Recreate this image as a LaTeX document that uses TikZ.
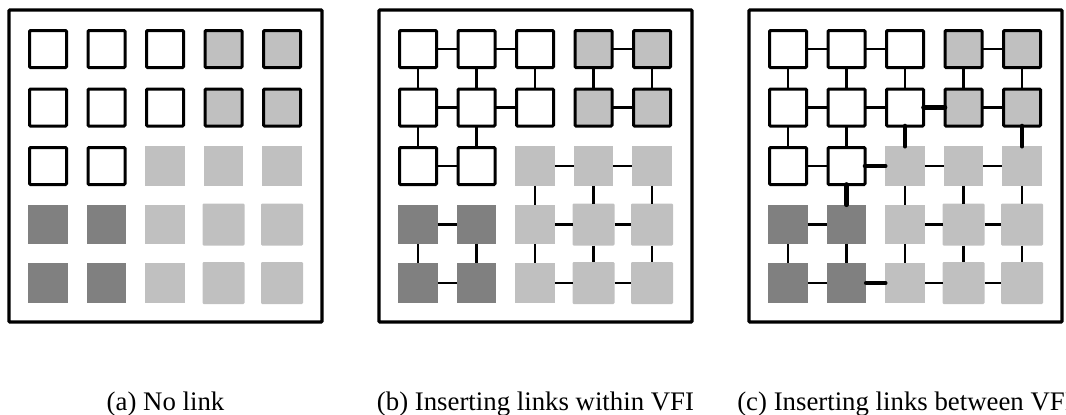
\documentclass[tikz,border=0pt]{standalone}
\usepackage{fontspec}
\setmainfont{Liberation Serif}
\definecolor{lgray}{RGB}{192,192,192}
\definecolor{dgray}{RGB}{128,128,128}
\tikzset{
  cell/.style={inner sep=0pt, outer sep=0pt},
  cellw/.style={cell, minimum size=37pt, draw=black, line width=3pt, fill=white, rounded corners=1pt},
  cellg/.style={cell, minimum size=37pt, draw=black, line width=3pt, fill=lgray, rounded corners=1pt},
  celld/.style={cell, minimum size=39.5pt, fill=dgray},
  celll/.style={cell, minimum size=39.5pt, fill=lgray},
  cellL/.style={cell, minimum size=42pt, fill=lgray, rounded corners=1.2pt},
  link/.style={line width=2.2pt},
  xlink/.style={line width=4.6pt, line cap=round},
  frame/.style={line width=3.2pt, rounded corners=1pt},
  caption/.style={font=\fontsize{26.8}{30}\selectfont, anchor=base, inner sep=0pt}
}
\begin{document}
\begin{tikzpicture}[x=1pt, y=-1pt]
  \useasboundingbox (0,0) rectangle (1066,415);
  % three panels, each a 5x5 grid of cores inside a frame
  \foreach \p/\ox/\cap in {a/0/{(a) No link},
                           b/370/{(b) Inserting links within VFI},
                           c/740/{(c) Inserting links between VFI}} {
    \draw[frame] (\ox+9,10) rectangle (\ox+322,322);
    \foreach \i/\row in {1/{w,w,w,g,g}, 2/{w,w,w,g,g}, 3/{w,w,l,l,l},
                         4/{d,d,l,L,L}, 5/{d,d,l,L,L}} {
      \foreach \s [count=\j] in \row {
        \node[cell\s] (\p\i\j) at ({\ox+48+58.5*(\j-1)}, {49+58.5*(\i-1)}) {};
      }
    }
    \node[caption] (cap\p) at (\ox+165.5,410) {\cap};
  }
  % links inside each voltage/frequency island
  \foreach \p in {b,c} {
    \foreach \u/\v in {11/12, 12/13, 11/21, 12/22, 13/23, 21/22, 22/23,
                       21/31, 22/32, 31/32,
                       14/15, 14/24, 15/25, 24/25,
                       41/42, 41/51, 42/52, 51/52,
                       33/34, 34/35, 33/43, 34/44, 35/45, 43/44, 44/45,
                       43/53, 44/54, 45/55, 53/54, 54/55} {
      \draw[link] (\p\u) -- (\p\v);
    }
  }
  % links between islands
  \foreach \u/\v in {23/24, 23/33, 25/35, 32/33, 32/42, 52/53} {
    \draw[xlink] (c\u) -- (c\v);
  }
\end{tikzpicture}
\end{document}
